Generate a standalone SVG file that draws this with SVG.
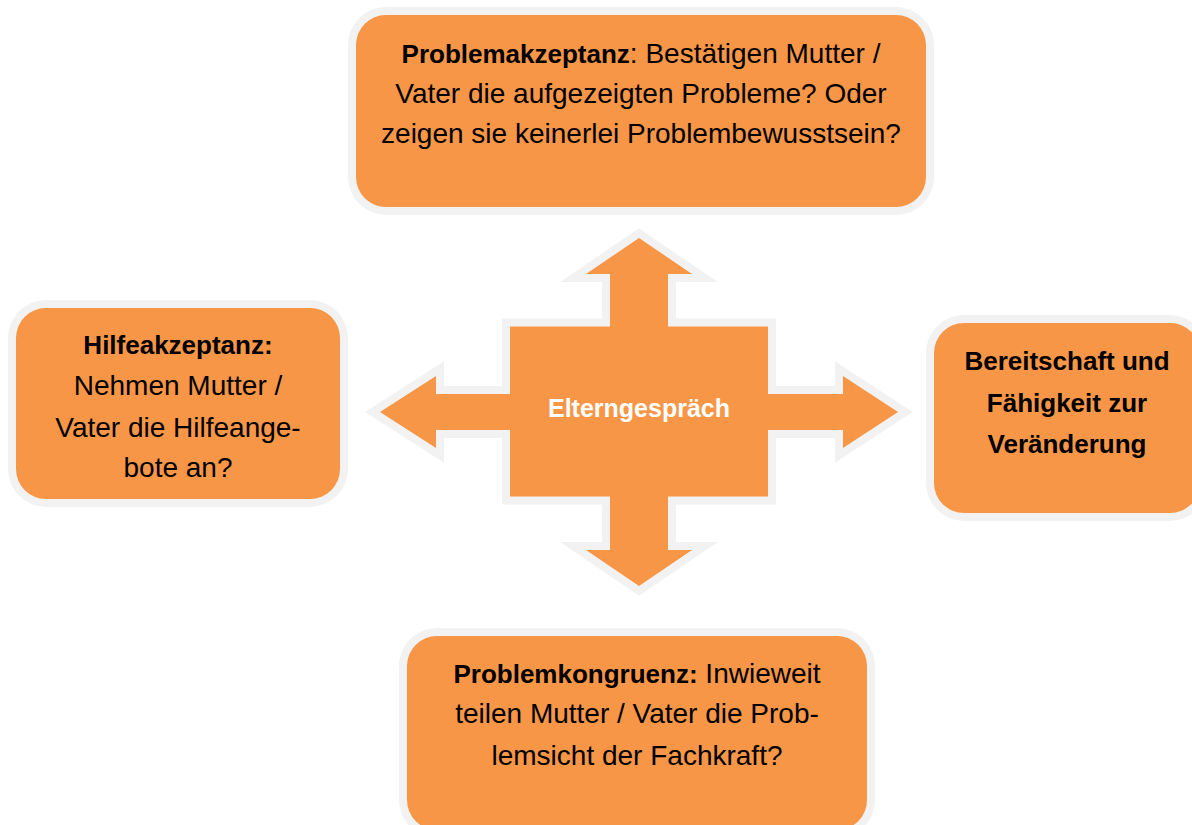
<svg xmlns="http://www.w3.org/2000/svg" width="1192" height="825" viewBox="0 0 1192 825">
<style>
.frame{fill:#F2F2F2}
.box{fill:#F79646}
.t{font-family:"Liberation Sans",Arial,sans-serif;font-size:28px;fill:#000;text-anchor:middle}
.b{font-weight:bold;font-size:26px}
.c{font-family:"Liberation Sans",Arial,sans-serif;font-size:25px;font-weight:bold;fill:#fff;text-anchor:middle}
</style>
<rect width="1192" height="825" fill="#fff"/>
<g id="center">
<polygon fill="#F79646" stroke="#F2F2F2" stroke-width="16" stroke-linejoin="miter" stroke-miterlimit="10" paint-order="stroke" points="639,238 692,274 668,274 668,326.5 768,326.5 768,394 843,394 843,376 898,412 843,448 843,430 768,430 768,496.5 668,496.5 668,550 692,550 639,586 586,550 610,550 610,496.5 510,496.5 510,430 436,430 436,448 380,412 436,376 436,394 510,394 510,326.5 610,326.5 610,274 586,274"/>
<text class="c" x="639" y="417">Elterngespräch</text>
</g>
<g id="top">
<rect class="frame" x="348" y="7" width="586" height="208" rx="38"/>
<rect class="box" x="356" y="15" width="570" height="192" rx="30"/>
<text class="t" x="641" y="63"><tspan class="b">Problemakzeptanz</tspan>: Bestätigen Mutter /</text>
<text class="t" x="641" y="103">Vater die aufgezeigten Probleme? Oder</text>
<text class="t" x="641" y="143">zeigen sie keinerlei Problembewusstsein?</text>
</g>
<g id="left">
<rect class="frame" x="8" y="300" width="340" height="207" rx="38"/>
<rect class="box" x="16" y="308" width="324" height="191" rx="30"/>
<text class="t b" x="178" y="354">Hilfeakzeptanz:</text>
<text class="t" x="178" y="395">Nehmen Mutter /</text>
<text class="t" x="178" y="437">Vater die Hilfeange-</text>
<text class="t" x="178" y="477">bote an?</text>
</g>
<g id="right">
<rect class="frame" x="926" y="315" width="282" height="206" rx="38"/>
<rect class="box" x="934" y="323" width="266" height="190" rx="30"/>
<text class="t b" x="1067" y="370">Bereitschaft und</text>
<text class="t b" x="1067" y="412">Fähigkeit zur</text>
<text class="t b" x="1067" y="453">Veränderung</text>
</g>
<g id="bottom">
<rect class="frame" x="399" y="628" width="476" height="210" rx="38"/>
<rect class="box" x="407" y="636" width="460" height="194" rx="30"/>
<text class="t" x="637" y="683"><tspan class="b">Problemkongruenz:</tspan> Inwieweit</text>
<text class="t" x="637" y="723">teilen Mutter / Vater die Prob-</text>
<text class="t" x="637" y="765">lemsicht der Fachkraft?</text>
</g>
</svg>
